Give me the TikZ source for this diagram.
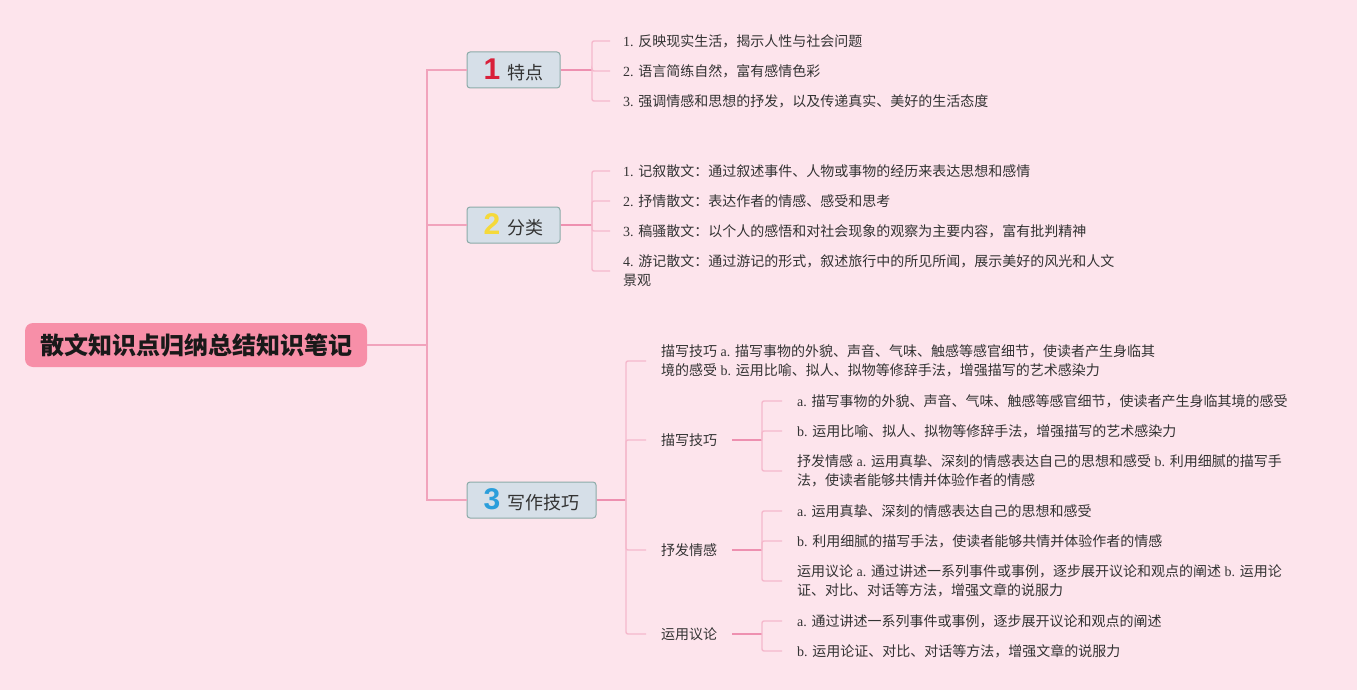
\documentclass[tikz,border=0pt]{standalone}
\usepackage{fontspec}
\setmainfont{Noto Sans CJK SC}
\newfontfamily\latf{Liberation Serif}
\newfontfamily\numf{Liberation Sans}
\newcommand\LT[1]{{\latf #1}}
\definecolor{bgc}{HTML}{FDE4EC}
\definecolor{rootc}{HTML}{F78FA8}
\definecolor{boxc}{HTML}{D6DFE8}
\definecolor{boxb}{HTML}{8CABA8}
\definecolor{txt}{HTML}{333333}
\definecolor{trunkc}{HTML}{F1A3BC}
\definecolor{darkc}{HTML}{EE90B0}
\definecolor{lightc}{HTML}{F5B8CC}
\definecolor{nred}{HTML}{D9203A}
\definecolor{nyel}{HTML}{F5D93A}
\definecolor{nblue}{HTML}{2B9EDB}
\newcommand\numtag[2]{{\numf\bfseries\fontsize{30pt}{30pt}\selectfont\color{#1}#2}\hspace{7pt}}
\begin{document}
\begin{tikzpicture}[x=1pt,y=-1pt,
  rootbox/.style={fill=rootc, rounded corners=8pt, minimum width=342pt, minimum height=44pt, inner sep=0pt, font=\fontsize{24pt}{28pt}\selectfont\bfseries, text=black!90},
  mainbox/.style={fill=boxc, draw=boxb, line width=1pt, rounded corners=3pt, minimum height=36pt, inner sep=0pt, font=\fontsize{18pt}{22pt}\selectfont, text=txt},
  item/.style={anchor=west, inner sep=0pt, align=left, font=\fontsize{14pt}{19pt}\selectfont, text=txt},
  trunk/.style={draw=trunkc, line width=1.8pt},
  dk/.style={draw=darkc, line width=1.6pt},
  lt/.style={draw=lightc, line width=1.4pt, rounded corners=2pt}
]
\path[fill=bgc] (0,0) rectangle (1357,690);

% root and main nodes
\node[rootbox] (root) at (196,345) {散文知识点归纳总结知识笔记};
\node[mainbox, minimum width=93pt] (m1) at (513.5,70) {\numtag{nred}{1}特点};
\node[mainbox, minimum width=93pt] (m2) at (513.5,225) {\numtag{nyel}{2}分类};
\node[mainbox, minimum width=129pt] (m3) at (531.5,500) {\numtag{nblue}{3}写作技巧};

\coordinate (j0) at (427,345);
\draw[trunk] (root.east) -- (j0);
\draw[trunk] (j0) |- (m1.west);
\draw[trunk] (j0) |- (m2.west);
\draw[trunk] (j0) |- (m3.west);

% group 1
\node[item] (a1) at (623,41) {\LT{1. }反映现实生活，揭示人性与社会问题};
\node[item] (a2) at (623,71) {\LT{2. }语言简练自然，富有感情色彩};
\node[item] (a3) at (623,101) {\LT{3. }强调情感和思想的抒发，以及传递真实、美好的生活态度};
\coordinate (b1) at (592,70);
\draw[dk] (m1.east) -- (b1);
\foreach \n in {a1,a2,a3} \draw[lt] (b1) |- ([xshift=-13pt]\n.west);

% group 2
\node[item] (p1) at (623,171) {\LT{1. }记叙散文：通过叙述事件、人物或事物的经历来表达思想和感情};
\node[item] (p2) at (623,201) {\LT{2. }抒情散文：表达作者的情感、感受和思考};
\node[item] (p3) at (623,231) {\LT{3. }稿骚散文：以个人的感悟和对社会现象的观察为主要内容，富有批判精神};
\node[item] (p4) at (623,271) {\LT{4. }游记散文：通过游记的形式，叙述旅行中的所见所闻，展示美好的风光和人文\\景观};
\coordinate (b2) at (592,225);
\draw[dk] (m2.east) -- (b2);
\foreach \n in {p1,p2,p3,p4} \draw[lt] (b2) |- ([xshift=-13pt]\n.west);

% group 3
\node[item] (c1) at (661,361) {描写技巧\LT{ a. }描写事物的外貌、声音、气味、触感等感官细节，使读者产生身临其\\境的感受\LT{ b. }运用比喻、拟人、拟物等修辞手法，增强描写的艺术感染力};
\node[item] (c2) at (661,440) {描写技巧};
\node[item] (c3) at (661,550) {抒发情感};
\node[item] (c4) at (661,634) {运用议论};
\coordinate (b3) at (626,500);
\draw[dk] (m3.east) -- (b3);
\foreach \n in {c1,c2,c3,c4} \draw[lt] (b3) |- ([xshift=-15pt]\n.west);

% c2 children
\node[item] (d21) at (797,401) {\LT{a. }描写事物的外貌、声音、气味、触感等感官细节，使读者产生身临其境的感受};
\node[item] (d22) at (797,431) {\LT{b. }运用比喻、拟人、拟物等修辞手法，增强描写的艺术感染力};
\node[item] (d23) at (797,471) {抒发情感\LT{ a. }运用真挚、深刻的情感表达自己的思想和感受\LT{ b. }利用细腻的描写手\\法，使读者能够共情并体验作者的情感};
\coordinate (e2) at (762,440);
\draw[dk] ([xshift=15pt]c2.east) -- (e2);
\foreach \n in {d21,d22,d23} \draw[lt] (e2) |- ([xshift=-15pt]\n.west);

% c3 children
\node[item] (d31) at (797,511) {\LT{a. }运用真挚、深刻的情感表达自己的思想和感受};
\node[item] (d32) at (797,541) {\LT{b. }利用细腻的描写手法，使读者能够共情并体验作者的情感};
\node[item] (d33) at (797,581) {运用议论\LT{ a. }通过讲述一系列事件或事例，逐步展开议论和观点的阐述\LT{ b. }运用论\\证、对比、对话等方法，增强文章的说服力};
\coordinate (e3) at (762,550);
\draw[dk] ([xshift=15pt]c3.east) -- (e3);
\foreach \n in {d31,d32,d33} \draw[lt] (e3) |- ([xshift=-15pt]\n.west);

% c4 children
\node[item] (d41) at (797,621) {\LT{a. }通过讲述一系列事件或事例，逐步展开议论和观点的阐述};
\node[item] (d42) at (797,651) {\LT{b. }运用论证、对比、对话等方法，增强文章的说服力};
\coordinate (e4) at (762,634);
\draw[dk] ([xshift=15pt]c4.east) -- (e4);
\foreach \n in {d41,d42} \draw[lt] (e4) |- ([xshift=-15pt]\n.west);
\end{tikzpicture}
\end{document}
